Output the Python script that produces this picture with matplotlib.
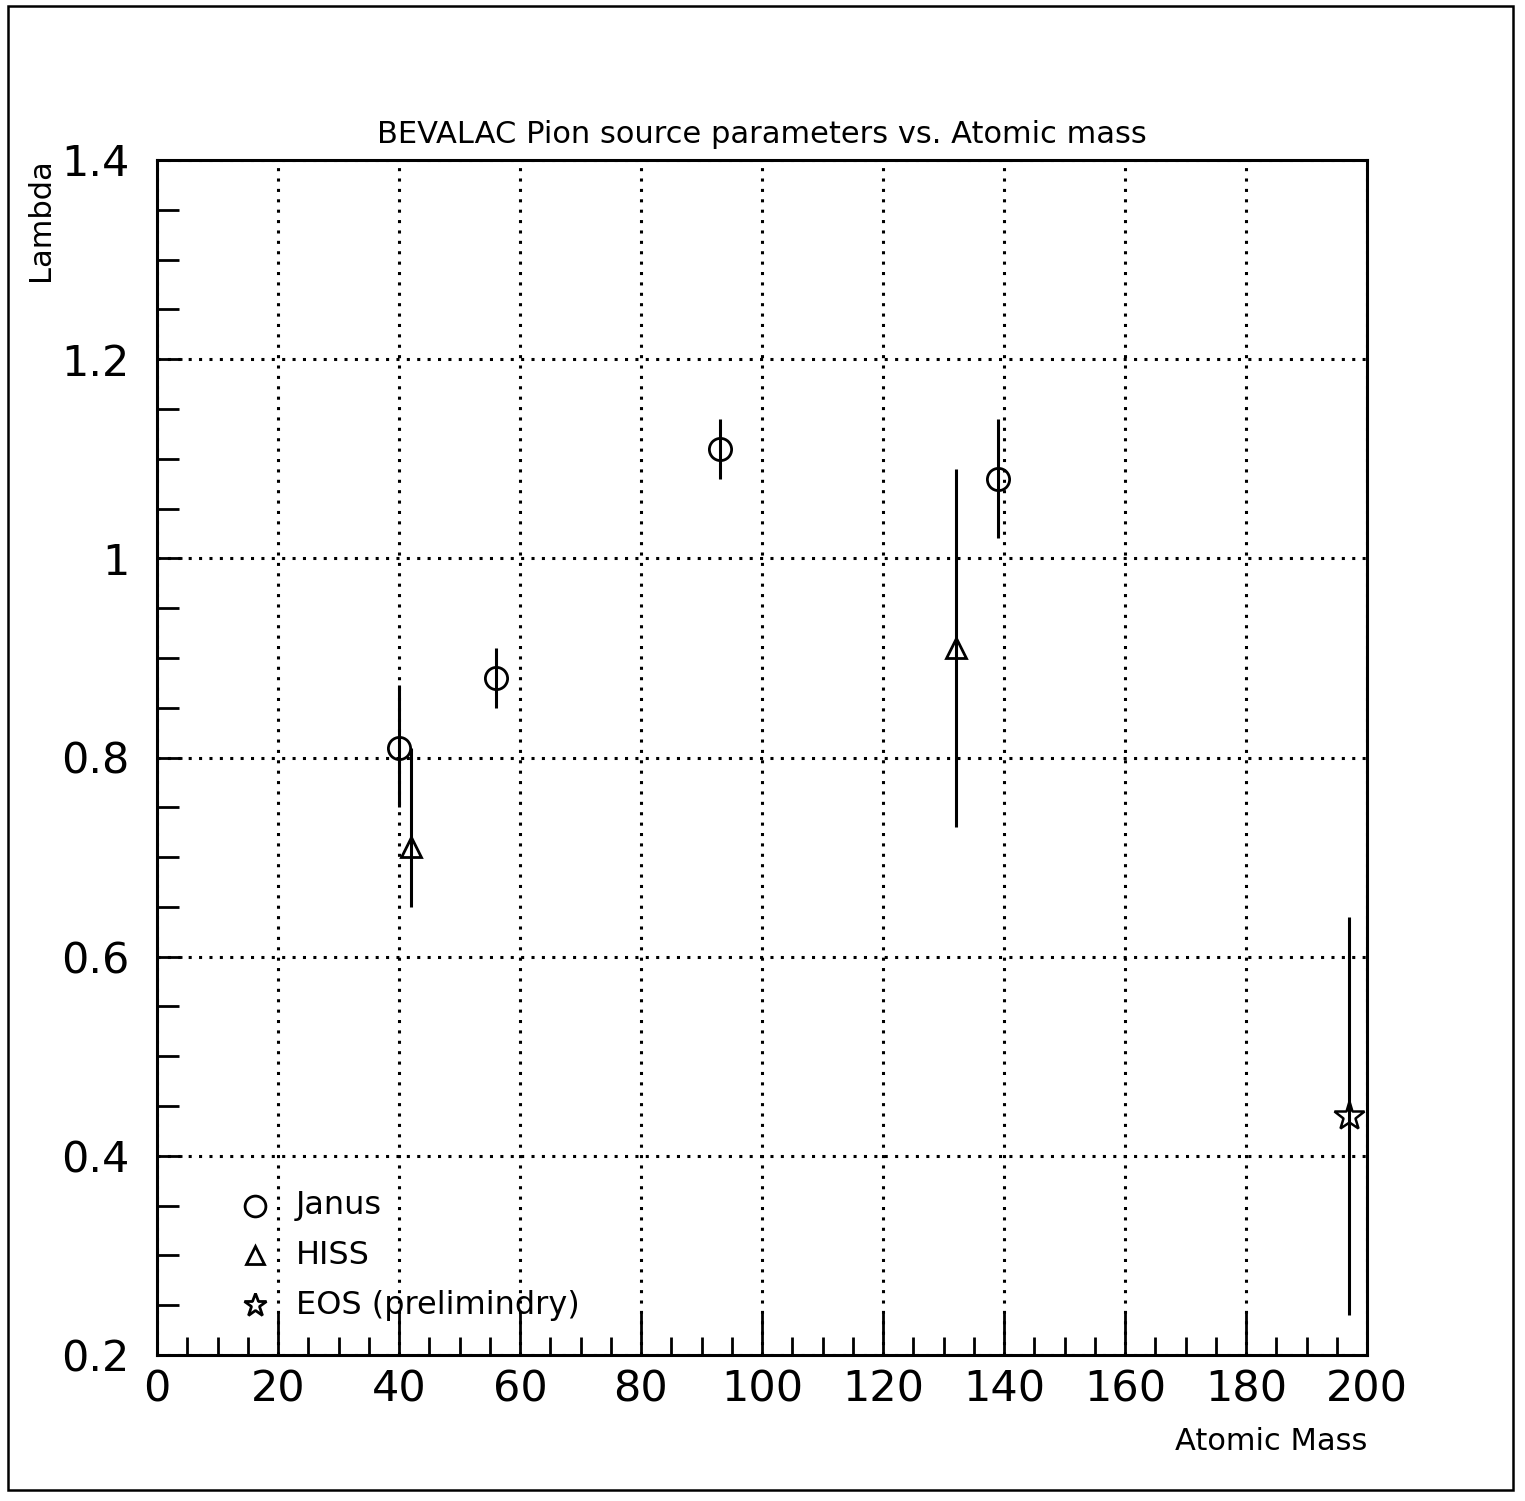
import matplotlib
matplotlib.use("Agg")
import matplotlib.pyplot as plt
from matplotlib.ticker import MultipleLocator, FixedLocator
from matplotlib.patches import Rectangle

plt.rcParams['font.family'] = ['DejaVu Sans']

# Data
janus_A = [40, 56, 93, 139]
janus_L = [0.81, 0.88, 1.11, 1.08]
janus_lo = [0.06, 0.03, 0.03, 0.06]
janus_hi = [0.063, 0.03, 0.03, 0.06]

hiss_A = [42, 132]
hiss_L = [0.71, 0.91]
hiss_lo = [0.06, 0.18]
hiss_hi = [0.10, 0.18]

eos_A = [197]
eos_L = [0.44]
eos_err = [0.20]

legend_labels = ["Janus", "HISS", "EOS (prelimindry)"]
xticks = [0, 20, 40, 60, 80, 100, 120, 140, 160, 180, 200]
yticks = [0.2, 0.4, 0.6, 0.8, 1.0, 1.2, 1.4]
ytick_labels = ["0.2", "0.4", "0.6", "0.8", "1", "1.2", "1.4"]

fig = plt.figure(figsize=(15.25, 15.01), dpi=100)
W, H = 1525, 1501
ax = fig.add_axes([157 / W, 1 - 1355 / H, (1367 - 157) / W, (1355 - 160) / H])

ax.set_xlim(0, 200)
ax.set_ylim(0.2, 1.4)

ax.errorbar(janus_A, janus_L, yerr=[janus_lo, janus_hi], fmt='o', mfc='none',
            mec='black', mew=2, ms=16, ecolor='black', elinewidth=2.2, capsize=0, zorder=3)
ax.errorbar(hiss_A, hiss_L, yerr=[hiss_lo, hiss_hi], fmt='^', mfc='none',
            mec='black', mew=2, ms=15, ecolor='black', elinewidth=2.2, capsize=0, zorder=3)
ax.errorbar(eos_A, eos_L, yerr=[eos_err, eos_err], fmt='*', mfc='none',
            mec='black', mew=1.8, ms=22, ecolor='black', elinewidth=2.2, capsize=0, zorder=3)

# legend drawn inside axes
leg_y = [0.35, 0.30, 0.25]
leg_m = ['o', '^', '*']
leg_ms = [15, 13, 17]
for yv, m, s, lab in zip(leg_y, leg_m, leg_ms, legend_labels):
    ax.plot([16.2], [yv], marker=m, mfc='none', mec='black', mew=2, ms=s, zorder=4)
    ax.text(23.0, yv, lab, fontsize=23, va='center', ha='left', zorder=4)

ax.xaxis.set_major_locator(FixedLocator(xticks))
ax.xaxis.set_minor_locator(MultipleLocator(5))
ax.yaxis.set_major_locator(FixedLocator(yticks))
ax.yaxis.set_minor_locator(MultipleLocator(0.05))
ax.set_yticklabels(ytick_labels)

ax.tick_params(which='both', direction='in', top=False, right=False, width=2, color='black')
ax.tick_params(which='major', length=30, labelsize=31, pad=10)
ax.tick_params(axis='y', which='major', length=18, pad=20)
ax.tick_params(axis='y', which='minor', length=16)
ax.tick_params(axis='x', which='minor', length=13)

ax.grid(True, which='major', linestyle=(0, (1, 2.4)), linewidth=2.2, color='black')
for sp in ax.spines.values():
    sp.set_linewidth(2.2)

ax.set_title("BEVALAC Pion source parameters vs. Atomic mass", fontsize=22, pad=12)
fig.text(1367 / W, 1 - 1441 / H, "Atomic Mass", fontsize=22, ha='right', va='center')
fig.text(40 / W, 1 - 158 / H, "Lambda", fontsize=22, rotation=90, ha='center', va='top')

# page border
fig.patches.append(Rectangle((8 / W, 1 - 1490 / H), (1513 - 8) / W, (1490 - 6) / H,
                             transform=fig.transFigure, fill=False, lw=1.8, ec='black'))

fig.savefig("out.png", dpi=100)
